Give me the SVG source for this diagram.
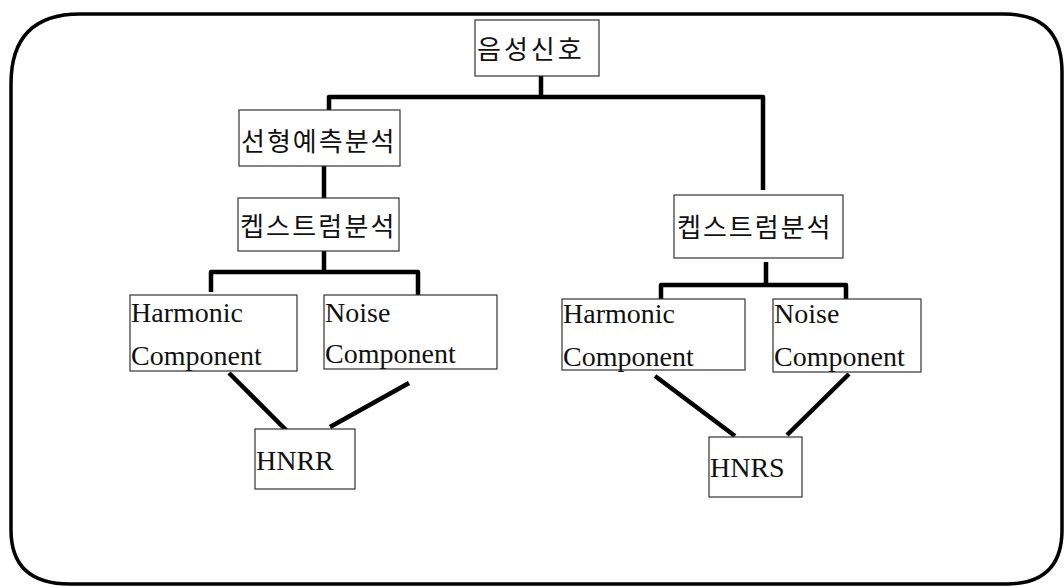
<svg xmlns="http://www.w3.org/2000/svg" width="1064" height="587" viewBox="0 0 1064 587">
<style>
.frame{fill:none;stroke:#000;stroke-width:3.5}
.box{fill:#fff;stroke:#333;stroke-width:1.2}
.conn{fill:none;stroke:#000;stroke-width:4.5;stroke-linejoin:round}
.ko{font-family:"Noto Sans CJK KR","Noto Sans",sans-serif;font-size:26px;fill:#111}
.en{font-family:"Liberation Serif","Times New Roman",serif;font-size:28px;fill:#111}
</style>
<rect width="1064" height="587" fill="#fff"/>
<path class="frame" d="M80,14 H1004 Q1062,14 1062,72 V530 Q1062,584 1006,584 H70 Q11,584 11,530 V84 Q11,14 80,14 Z"/>
<g id="connectors">
<path class="conn" d="M541,76 V97 M329,110 V97 H763 V190"/>
<path class="conn" d="M324,166 V198"/>
<path class="conn" d="M324,251 V272 M211,292 V272 H418 V297"/>
<path class="conn" d="M766,262 V285 M661,300 V285 H846 V300"/>
<path class="conn" d="M229,373 L288,432 M409,383 L330,427"/>
<path class="conn" d="M655,376 L735,436 M849,374 L787,435"/>
</g>
<g id="n-signal"><rect class="box" x="475" y="20" width="124" height="56"/><text class="ko" x="477" y="59" letter-spacing="3">음성신호</text></g>
<g id="n-lpc"><rect class="box" x="239" y="110" width="161" height="56"/><text class="ko" x="241" y="151" letter-spacing="2">선형예측분석</text></g>
<g id="n-cep-left"><rect class="box" x="238" y="198" width="161" height="53"/><text class="ko" x="240" y="236" letter-spacing="2.2">켑스트럼분석</text></g>
<g id="n-cep-right"><rect class="box" x="674" y="195" width="169" height="63"/><text class="ko" x="677" y="237" letter-spacing="2">켑스트럼분석</text></g>
<g id="n-harm-left"><rect class="box" x="130" y="295" width="167" height="76"/><text class="en" x="131" y="322">Harmonic</text><text class="en" x="131" y="365">Component</text></g>
<g id="n-noise-left"><rect class="box" x="324" y="295" width="173" height="74"/><text class="en" x="325" y="322">Noise</text><text class="en" x="325" y="363">Component</text></g>
<g id="n-harm-right"><rect class="box" x="562" y="299" width="183" height="71"/><text class="en" x="563" y="323">Harmonic</text><text class="en" x="563" y="366">Component</text></g>
<g id="n-noise-right"><rect class="box" x="773" y="299" width="148" height="73"/><text class="en" x="774" y="323">Noise</text><text class="en" x="774" y="366">Component</text></g>
<g id="n-hnrr"><rect class="box" x="255" y="429" width="100" height="60"/><text class="en" x="256" y="470">HNRR</text></g>
<g id="n-hnrs"><rect class="box" x="709" y="437" width="93" height="60"/><text class="en" x="710" y="477">HNRS</text></g>
</svg>
